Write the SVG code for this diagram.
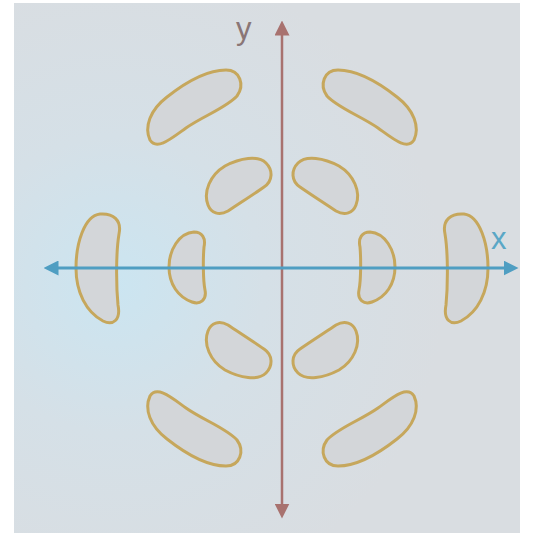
<svg xmlns="http://www.w3.org/2000/svg" width="549" height="535" viewBox="0 0 549 535">
  <defs>
    <radialGradient id="bg" cx="115" cy="285" r="330" gradientUnits="userSpaceOnUse">
      <stop offset="0" stop-color="#cbe5f1"/>
      <stop offset="0.45" stop-color="#d5e0e7"/>
      <stop offset="1" stop-color="#d9dde1"/>
    </radialGradient>
    <marker id="ya" viewBox="0 0 10 10" refX="1" refY="5" markerWidth="6" markerHeight="6" orient="auto-start-reverse" markerUnits="strokeWidth">
      <path d="M0,0 L10,5 L0,10 Z" fill="#a8726f"/>
    </marker>
    <marker id="xa" viewBox="0 0 10 10" refX="1" refY="5" markerWidth="5" markerHeight="5" orient="auto-start-reverse" markerUnits="strokeWidth">
      <path d="M0,0 L10,5 L0,10 Z" fill="#4f9ec2"/>
    </marker>
    <path id="tlo" d="M 150,140 C 144,127 150,110 167,97 C 186,82 207,70 226,70 C 240,70 245,85 237,96 C 226,108 203,116 186,128 C 172,138 157,151 150,140 Z"/>
    <path id="tli" d="M 208,205 C 203,192 210,175 225,166 C 240,158 258,155 266,163 C 273,170 273,181 264,187 C 254,194 240,203 228,211 C 219,216 211,213 208,205 Z"/>
    <path id="lo" d="M 100,214 C 113,213 122,220 119,234 C 116,252 116,284 118,305 C 121,320 113,326 103,321 C 86,312 76,292 76,268 C 76,244 84,216 100,214 Z"/>
    <path id="li" d="M 194,232 C 202,232 206,238 204,247 C 203,258 203,280 205,290 C 207,300 200,305 192,302 C 178,297 169,284 169,267 C 169,250 179,233 194,232 Z"/>
  </defs>
  <style>
    .bean { fill: #d3d6d9; stroke: #c6a75c; stroke-width: 3; }
    .lbl { font-family: "Liberation Sans", "DejaVu Sans", sans-serif; font-size: 31px; }
  </style>
  <rect x="0" y="0" width="549" height="535" fill="#ffffff"/>
  <rect x="14" y="3" width="506" height="530" fill="url(#bg)"/>

  <g id="bean-top-left-outer"><use href="#tlo" class="bean"/></g>
  <g id="bean-top-right-outer"><use href="#tlo" class="bean" transform="matrix(-1 0 0 1 564 0)"/></g>
  <g id="bean-bottom-left-outer"><use href="#tlo" class="bean" transform="matrix(1 0 0 -1 0 536)"/></g>
  <g id="bean-bottom-right-outer"><use href="#tlo" class="bean" transform="matrix(-1 0 0 -1 564 536)"/></g>
  <g id="bean-top-left-inner"><use href="#tli" class="bean"/></g>
  <g id="bean-top-right-inner"><use href="#tli" class="bean" transform="matrix(-1 0 0 1 564 0)"/></g>
  <g id="bean-bottom-left-inner"><use href="#tli" class="bean" transform="matrix(1 0 0 -1 0 536)"/></g>
  <g id="bean-bottom-right-inner"><use href="#tli" class="bean" transform="matrix(-1 0 0 -1 564 536)"/></g>
  <g id="bean-left-outer"><use href="#lo" class="bean"/></g>
  <g id="bean-right-outer"><use href="#lo" class="bean" transform="matrix(-1 0 0 1 564 0)"/></g>
  <g id="bean-left-inner"><use href="#li" class="bean"/></g>
  <g id="bean-right-inner"><use href="#li" class="bean" transform="matrix(-1 0 0 1 564 0)"/></g>

  <g id="connectors">
    <line x1="282" y1="505" x2="282" y2="34" stroke="#a8726f" stroke-width="2.5" marker-start="url(#ya)" marker-end="url(#ya)"/>
    <line x1="57" y1="268" x2="505" y2="268" stroke="#4f9ec2" stroke-width="3" marker-start="url(#xa)" marker-end="url(#xa)"/>
  </g>
  <g id="labels">
    <text class="lbl" x="236" y="39" fill="#8a7676">y</text>
    <text class="lbl" x="491" y="249" fill="#5aa7c6">x</text>
  </g>
</svg>
